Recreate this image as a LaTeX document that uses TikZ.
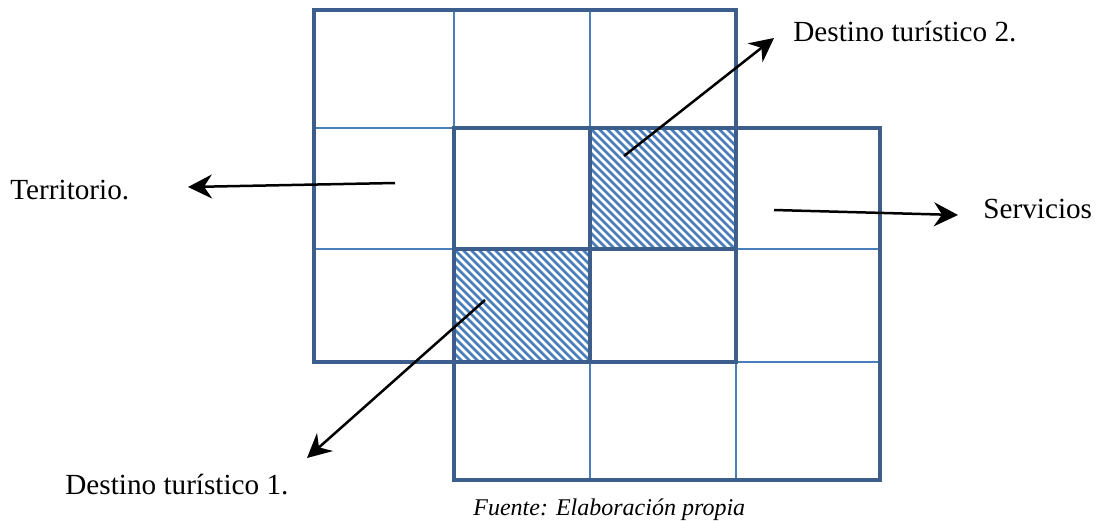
\documentclass[tikz,border=0pt]{standalone}
\usepackage{fontspec}
\setmainfont{Liberation Serif}
\usetikzlibrary{arrows.meta}
\definecolor{thickblue}{HTML}{3B5E8C}
\definecolor{thinblue}{HTML}{4A7EBB}
\tikzset{
  thinline/.style={draw=thinblue, line width=1pt},
  thickline/.style={draw=thickblue, line width=2.2pt, line join=miter},
  hatchline/.style={draw=thinblue, line width=1.35pt},
  pointer/.style={draw=black, line width=1.25pt, -{Stealth[length=12pt,width=12pt,inset=4pt]}},
  lbl/.style={font=\fontsize{14.6}{17}\selectfont, inner sep=0pt, anchor=base west},
  src/.style={font=\fontsize{12}{14}\itshape\selectfont, inner sep=0pt, anchor=base west}
}
\begin{document}
\begin{tikzpicture}[x=0.5pt,y=-0.5pt]
\useasboundingbox (0,0) rectangle (1098,520);
% thin grid
\foreach \x in {454,590,736} \draw[thinline] (\x,10) -- (\x,480);
\foreach \y in {128,249,362} \draw[thinline] (314,\y) -- (880,\y);
% hatching
\begin{scope}
  \clip (590,128) rectangle (736,249);
  \foreach \a in {-160,-152,...,160} \draw[hatchline] (590+\a,128) -- (590+\a+130,258);
\end{scope}
\begin{scope}
  \clip (454,249) rectangle (590,362);
  \foreach \a in {-160,-152,...,160} \draw[hatchline] (454+\a,249) -- (454+\a+130,379);
\end{scope}
% thick borders
\draw[thickline] (314,10) rectangle (736,362);
\draw[thickline] (454,128) rectangle (880,480);
\draw[thickline] (590,128) rectangle (736,249);
\draw[thickline] (454,249) rectangle (590,362);
% labels
\node[lbl] (terr) at (10,199) {Territorio.};
\node[lbl] (dest2) at (793,41) {Destino turístico 2.};
\node[lbl] (serv) at (983,218) {Servicios};
\node[lbl] (dest1) at (65,494) {Destino turístico 1.};
\node[src] (fuente) at (473,515) {Fuente: Elaboración propia};
% arrow coordinates
\coordinate (tS) at (395,183);
\coordinate (tE) at (188,187);
\coordinate (d2S) at (624,156);
\coordinate (d2E) at (774,38);
\coordinate (sS) at (774,210);
\coordinate (sE) at (958,215);
\coordinate (d1S) at (485,300);
\coordinate (d1E) at (307,458);
\draw[pointer] (tS) -- (tE);
\draw[pointer] (d2S) -- (d2E);
\draw[pointer] (sS) -- (sE);
\draw[pointer] (d1S) -- (d1E);
\end{tikzpicture}
\end{document}
